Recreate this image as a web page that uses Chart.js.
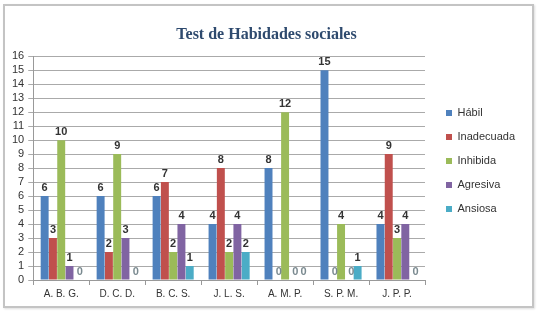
<!DOCTYPE html>
<html>
<head>
<meta charset="utf-8">
<script src="https://cdn.jsdelivr.net/npm/chart.js@4"></script>
<style>
  body { margin: 0; background: #fff; }
  #wrap { position: relative; width: 538px; height: 313px; }
  #frame { position: absolute; left: 3px; top: 4px; width: 527px; height: 300px;
           border: 2px solid #c4c4c4; box-shadow: 1px 1px 2px #ddd; pointer-events: none; }
</style>
</head>
<body>
<div id="wrap">
  <canvas id="chart" width="538" height="313"></canvas>
  <div id="frame"></div>
</div>
<script>
// Datos del gráfico
const alumnos = ['A. B. G.', 'D. C. D.', 'B. C. S.', 'J. L. S.', 'A. M. P.', 'S. P. M.', 'J. P. P.'];
const habil = [6, 6, 6, 4, 8, 15, 4];
const inadecuada = [3, 2, 7, 8, 0, 0, 9];
const inhibida = [10, 9, 2, 2, 12, 4, 3];
const agresiva = [1, 3, 4, 4, 0, 0, 4];
const ansiosa = [0, 0, 1, 2, 0, 1, 0];
const ticksY = [0, 16];

const HUECO = 8;

// Plugin para las etiquetas de valor encima de cada barra
const etiquetas = {
    id: 'etiquetas',
    afterDatasetsDraw(chart) {
        const ctx = chart.ctx;
        ctx.save();
        ctx.font = 'bold 11px "Liberation Sans", Arial, sans-serif';
        ctx.textAlign = 'center';
        ctx.textBaseline = 'bottom';
        chart.data.datasets.forEach((ds, i) => {
            const meta = chart.getDatasetMeta(i);
            meta.data.forEach((bar, j) => {
                const v = ds.data[j];
                ctx.fillStyle = v === 0 ? '#7a8a90' : '#333';
                ctx.fillText(v, bar.x + (v === 0 ? 2 : 0), bar.y - 3);
            });
        });
        ctx.restore();
    }
};

// Separación extra entre el gráfico y la leyenda
const huecoLeyenda = {
    id: 'huecoLeyenda',
    beforeInit(chart) {
        const fitOriginal = chart.legend.fit;
        chart.legend.fit = function() {
            fitOriginal.bind(chart.legend)();
            this.width += HUECO;
        };
    },
    afterLayout(chart) {
        chart.legend.left += HUECO;
    }
};

const ctx = document.getElementById('chart').getContext('2d');
new Chart(ctx, {
    type: 'bar',
    data: {
        labels: alumnos,
        datasets: [
            { label: 'Hábil', data: habil, backgroundColor: '#4F81BD' },
            { label: 'Inadecuada', data: inadecuada, backgroundColor: '#C0504D' },
            { label: 'Inhibida', data: inhibida, backgroundColor: '#9BBB59' },
            { label: 'Agresiva', data: agresiva, backgroundColor: '#8064A2' },
            { label: 'Ansiosa', data: ansiosa, backgroundColor: '#4BACC6' }
        ]
    },
    options: {
        responsive: false,
        animation: false,
        layout: { padding: { left: 8, right: 13, top: 19, bottom: 10 } },
        datasets: { bar: { categoryPercentage: 0.74, barPercentage: 0.96 } },
        plugins: {
            title: {
                display: true,
                text: 'Test de Habidades sociales',
                color: '#2E4A6E',
                font: { family: '"Liberation Serif", "Times New Roman", serif', size: 16, weight: 'bold' },
                padding: { top: 6, bottom: 12 }
            },
            legend: {
                position: 'right',
                labels: {
                    boxWidth: 6, boxHeight: 6, padding: 13,
                    color: '#333',
                    font: { family: '"Liberation Sans", Arial, sans-serif', size: 11 }
                }
            },
            tooltip: { enabled: false }
        },
        scales: {
            x: {
                grid: { display: true, drawOnChartArea: false, offset: true, tickLength: 5, color: '#999' },
                border: { color: '#999' },
                ticks: { color: '#333', font: { family: '"Liberation Sans", Arial, sans-serif', size: 10 } }
            },
            y: {
                min: ticksY[0],
                max: ticksY[1],
                grid: { color: '#aaa', tickLength: 5 },
                border: { color: '#999' },
                ticks: { stepSize: 1, autoSkip: false, color: '#333', padding: 4, font: { family: '"Liberation Sans", Arial, sans-serif', size: 11 } }
            }
        }
    },
    plugins: [etiquetas, huecoLeyenda]
});
</script>
</body>
</html>
